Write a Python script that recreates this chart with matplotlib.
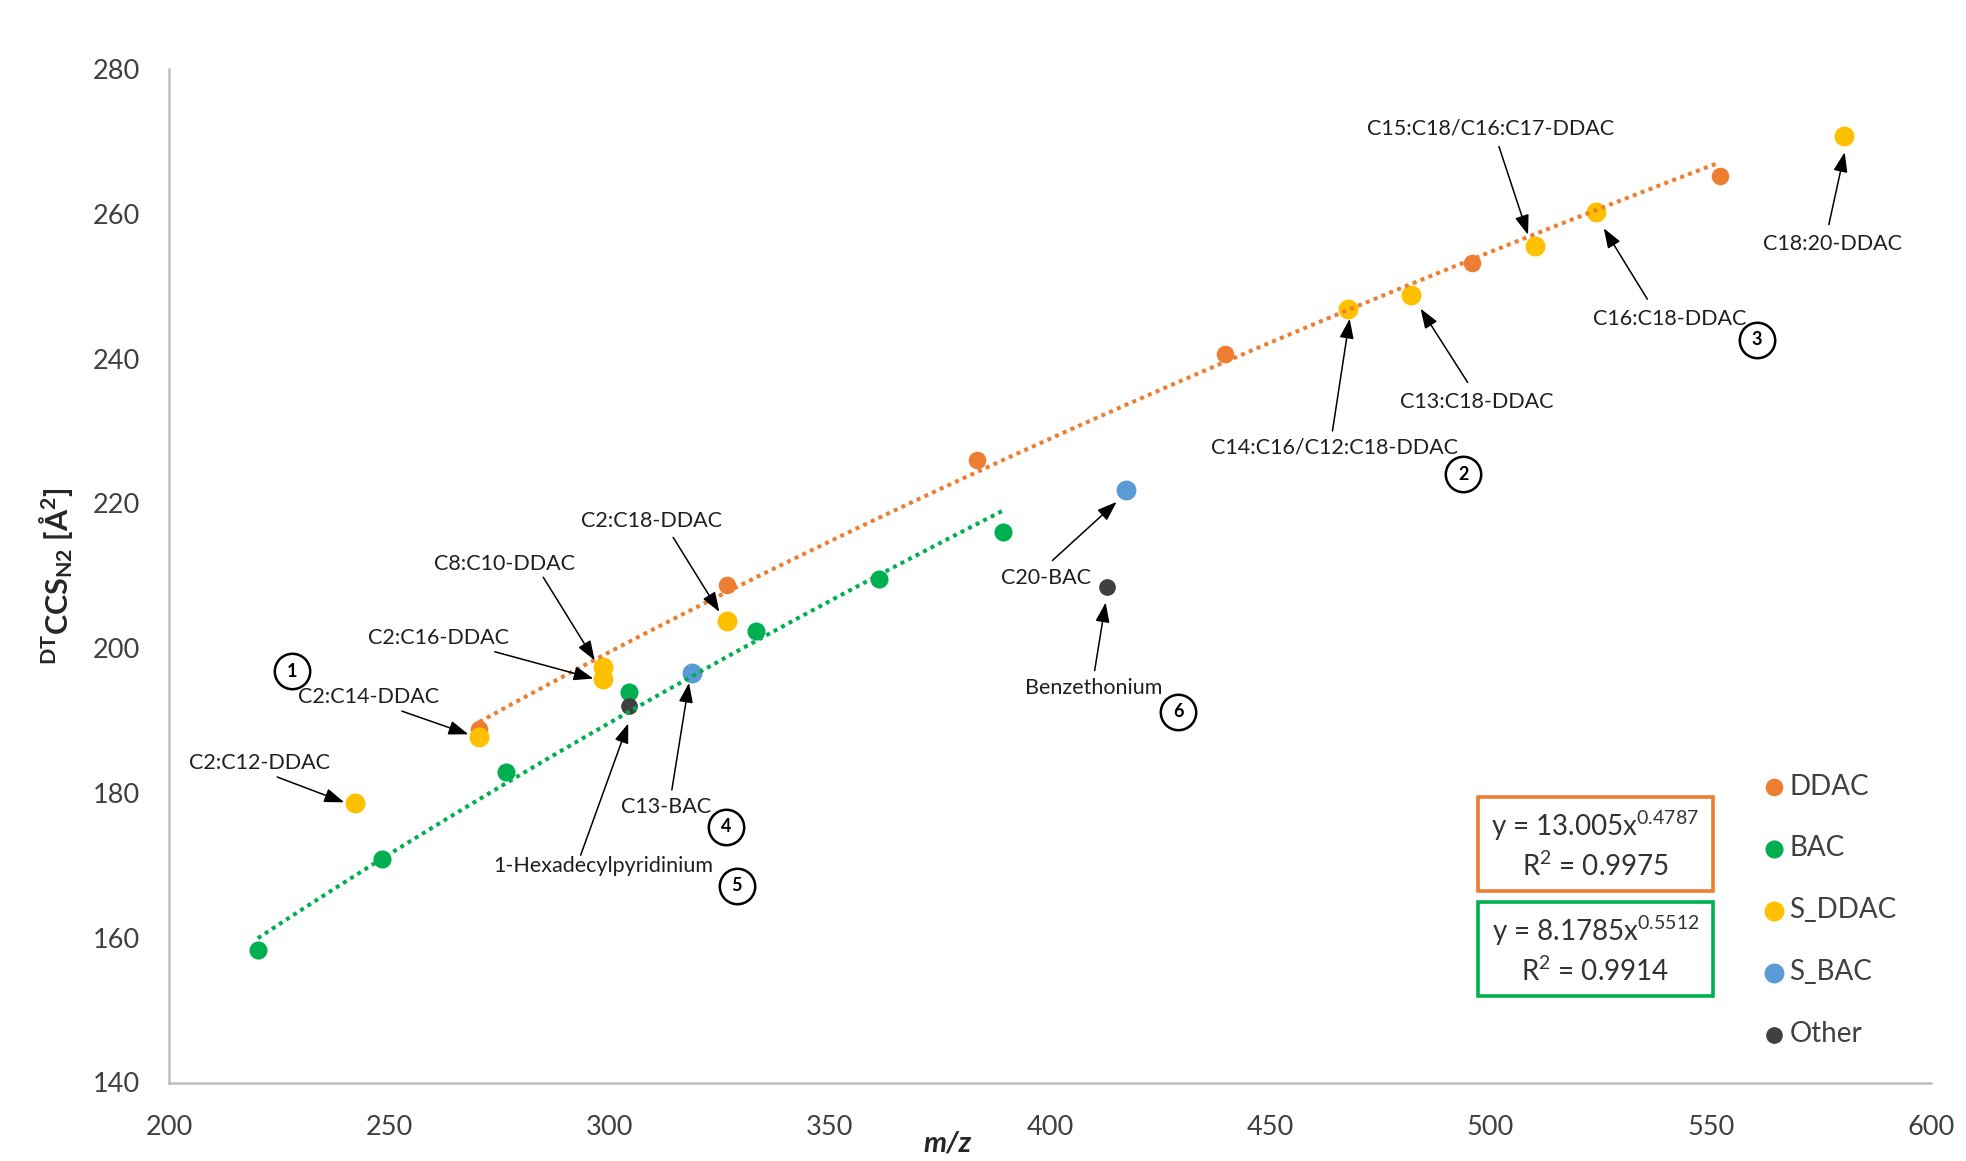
import numpy as np
import matplotlib
matplotlib.use("Agg")
import matplotlib.pyplot as plt
from matplotlib.patches import Rectangle

plt.rcParams['font.family'] = ['Lato', 'DejaVu Sans']
plt.rcParams['mathtext.fontset'] = 'custom'
plt.rcParams['mathtext.rm'] = 'Lato'
plt.rcParams['mathtext.it'] = 'Lato:italic'
plt.rcParams['mathtext.bf'] = 'Lato:bold'

# --- datos (m/z, CCS) ---
ddac_mz = [270.4, 326.7, 383.4, 439.7, 495.8, 552.0]
ddac_ccs = [188.8, 208.7, 226.0, 240.6, 253.2, 265.2]
bac_mz = [220.1, 248.2, 276.4, 304.4, 333.1, 361.1, 389.2]
bac_ccs = [158.3, 170.9, 182.9, 193.9, 202.4, 209.5, 216.1]
sddac_mz = [242.2, 270.4, 298.5, 298.5, 326.7, 467.6, 482.0, 510.0, 524.0, 580.2]
sddac_ccs = [178.6, 187.7, 197.4, 195.8, 203.8, 246.8, 248.8, 255.6, 260.2, 270.8]
sbac_mz = [318.7, 417.3]
sbac_ccs = [196.6, 221.9]
other_mz = [304.4, 413.0]
other_ccs = [192.0, 208.4]

series_names = ['DDAC', 'BAC', 'S_DDAC', 'S_BAC', 'Other']

# ajustes potenciales y = a * x^b (de las cajas)
ddac_fit = [13.005, 0.4787, 0.9975]
bac_fit = [8.1785, 0.5512, 0.9914]

labels = ['C2:C12-DDAC', 'C2:C14-DDAC', 'C2:C16-DDAC', 'C8:C10-DDAC', 'C2:C18-DDAC',
          'C13-BAC', '1-Hexadecylpyridinium', 'C20-BAC', 'Benzethonium',
          'C14:C16/C12:C18-DDAC', 'C13:C18-DDAC', 'C15:C18/C16:C17-DDAC',
          'C16:C18-DDAC', 'C18:20-DDAC']
group_numbers = ['1', '2', '3', '4', '5', '6']

# --- layout (posiciones de textos y flechas, en coordenadas de datos) ---
label_pos = [(220.4, 184.1), (245.2, 193.2), (261.1, 201.4), (276.2, 211.6), (309.4, 217.6),
             (312.9, 178.1), (298.5, 169.9), (399.0, 209.7), (409.9, 194.5),
             (464.6, 227.7), (496.8, 234.0), (500.1, 271.8),
             (540.7, 245.5), (577.7, 255.8)]
arrow_tail = [(224.5, 182.2), (252.8, 191.3), (273.9, 199.5), (284.9, 209.8), (314.4, 215.3),
              (314.1, 180.4), (293.4, 171.4), (400.5, 212.1), (410.1, 196.9),
              (464.1, 230.0), (494.8, 236.7), (501.9, 269.3),
              (535.6, 248.2), (576.8, 258.5)]
arrow_tip = [(239.7, 178.7), (267.9, 188.1), (296.3, 195.8), (296.6, 198.3), (324.9, 205.0),
             (318.0, 195.2), (304.2, 189.6), (415.1, 220.2), (412.6, 206.3),
             (468.0, 245.5), (484.1, 246.9), (508.5, 257.1),
             (525.7, 258.0), (580.4, 268.5)]
number_pos = [(227.9, 196.8), (493.8, 224.0), (560.5, 242.6), (326.4, 175.3), (328.8, 167.2), (429.1, 191.2)]

ORANGE = '#ED7D31'
GREEN = '#00B050'
YELLOW = '#FFC000'
BLUE = '#5B9BD5'
DARK = '#404040'

fig = plt.figure(figsize=(19.66, 11.61), dpi=100)
ax = fig.add_axes([169.3 / 1966, 1 - 1082.5 / 1161, 1761.7 / 1966, 1013.5 / 1161])

# puntos
h1 = ax.scatter(ddac_mz, ddac_ccs, s=160, color=ORANGE, linewidths=0, zorder=3)
h2 = ax.scatter(bac_mz, bac_ccs, s=170, color=GREEN, linewidths=0, zorder=3)
h3 = ax.scatter(sddac_mz, sddac_ccs, s=205, color=YELLOW, linewidths=0, zorder=4)
h4 = ax.scatter(sbac_mz, sbac_ccs, s=205, color=BLUE, linewidths=0, zorder=4)
h5 = ax.scatter(other_mz, other_ccs, s=145, color=DARK, linewidths=0, zorder=5)

# lineas de tendencia (potencial)
for mz, fit, col in [(ddac_mz, ddac_fit, ORANGE), (bac_mz, bac_fit, GREEN)]:
    xs = np.linspace(min(mz), max(mz), 200)
    ax.plot(xs, fit[0] * xs ** fit[1], color=col, lw=2.9, linestyle=(0, (1, 1.1)),
            dash_capstyle='butt', zorder=6)

# etiquetas con flechas
for lab, pos, tail, tip in zip(labels, label_pos, arrow_tail, arrow_tip):
    ax.text(pos[0], pos[1], lab, fontsize=15.5, color='#1f1f1f', ha='center', va='center', zorder=7)
    ax.annotate('', xy=tip, xytext=tail,
                arrowprops=dict(arrowstyle='-|>,head_length=1.0,head_width=0.36', mutation_scale=12,
                                lw=1.1, color='black', shrinkA=0, shrinkB=0), zorder=7)

# numeros en circulo
for num, pos in zip(group_numbers, number_pos):
    ax.plot(pos[0], pos[1], marker='o', markersize=25.5, mfc='white', mec='black', mew=1.8, zorder=7)
    ax.text(pos[0], pos[1], num, fontsize=13, fontweight='bold', color='black',
            ha='center', va='center', zorder=8)

# cajas de ecuaciones
for fit, col, y0 in [(ddac_fit, ORANGE, 166.5), (bac_fit, GREEN, 152.0)]:
    ax.add_patch(Rectangle((497.2, y0), 53.4, 12.9, fill=False, ec=col, lw=2.6, zorder=7))
    ax.text(523.8, y0 + 8.9, f'y = {fit[0]}x$^{{{fit[1]}}}$', fontsize=20, color='#333333',
            ha='center', va='center', zorder=8)
    ax.text(523.8, y0 + 3.4, f'R$^{{2}}$ = {fit[2]}', fontsize=20, color='#333333',
            ha='center', va='center', zorder=8)

ax.set_xlim(200, 600)
ax.set_ylim(140, 280)
ax.set_xticks(np.arange(200, 601, 50))
ax.set_yticks(np.arange(140, 281, 20))
ax.tick_params(length=0, labelsize=19.5, colors='#404040')
ax.tick_params(axis='x', pad=23.5)
ax.tick_params(axis='y', pad=21)
for side in ['top', 'right']:
    ax.spines[side].set_visible(False)
for side in ['left', 'bottom']:
    ax.spines[side].set_color('#BFBFBF')
    ax.spines[side].set_linewidth(1.8)

ax.set_xlabel('m/z', fontsize=21, fontweight='bold', fontstyle='italic', color='#262626', va='center')
ax.xaxis.set_label_coords(0.442, -0.0597)
ax.set_ylabel(r'$^{\mathbf{DT}}$CCS$_{\mathbf{N2}}$ [Å$^{\mathbf{2}}$]', fontsize=22,
              fontweight='bold', color='#262626', va='center')
ax.yaxis.set_label_coords(-0.0643, 0.5)

ax.legend([h1, h2, h3, h4, h5], series_names, loc='center left', bbox_to_anchor=(0.895, 0.170),
          frameon=False, fontsize=20, labelcolor='#404040', borderpad=0, handlelength=1,
          handletextpad=0.06, labelspacing=1.29, scatterpoints=1)

fig.savefig('out.png', dpi=100)
